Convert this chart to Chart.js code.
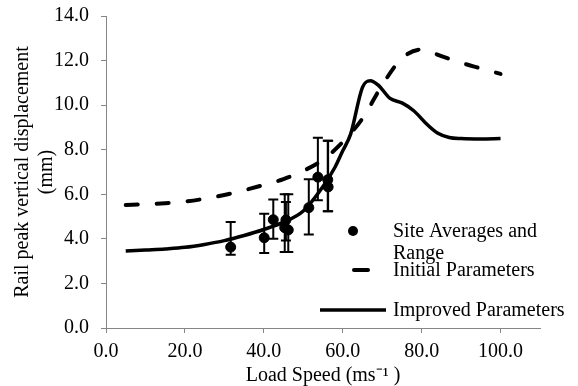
<!DOCTYPE html>
<html>
<head>
<meta charset="utf-8">
<script src="https://cdn.jsdelivr.net/npm/chart.js@4.4.1/dist/chart.umd.min.js"></script>
<style>
  html, body { margin: 0; padding: 0; background: #fff; }
  #wrap { width: 578px; height: 386px; position: relative; }
</style>
</head>
<body>
<div id="wrap"><canvas id="chart"></canvas></div>
<script>
// site measurements (average with min/max range)
const siteSpeed = [31.6, 40.1, 42.4, 45.6, 45.3, 46.2, 51.4, 53.7, 56.2, 56.3];
const siteAvg   = [3.63, 4.05, 4.86, 4.85, 4.5, 4.4, 5.4, 6.77, 6.65, 6.33];
const siteMin   = [3.29, 3.37, 4.01, 3.93, 3.41, 3.41, 4.2, 5.73, 5.24, 5.24];
const siteMax   = [4.76, 5.13, 5.77, 5.65, 6.0, 6.0, 6.67, 8.54, 8.4, 8.4];

// model with initial parameters
const initSpeed = [5, 10, 15, 20, 25, 30, 35, 40, 45, 50, 55, 60, 65, 70, 75, 80, 82, 85, 90, 95, 100];
const initDisp  = [5.52, 5.55, 5.6, 5.67, 5.8, 5.97, 6.18, 6.42, 6.68, 7.05, 7.55, 8.35, 9.4, 10.9, 12.1, 12.5, 12.4, 12.2, 11.9, 11.65, 11.4];

// model with improved parameters
const improvedSpeed = [5, 10, 15, 20, 25, 30, 35, 40, 45, 50, 55, 58, 60, 62, 65, 67, 69, 72, 75, 78, 81, 84, 87, 90, 95, 100];
const improvedDisp  = [3.45, 3.5, 3.55, 3.62, 3.75, 3.92, 4.15, 4.42, 4.75, 5.25, 6.35, 7.2, 7.95, 8.7, 10.8, 11.1, 10.9, 10.3, 10.1, 9.75, 9.2, 8.75, 8.55, 8.5, 8.48, 8.5];

const xTicks = [0, 20, 40, 60, 80, 100];
const yTicks = [0, 2, 4, 6, 8, 10, 12, 14];

const serif = "'Liberation Serif', 'Times New Roman', serif";
const axisGrey = "#868686";

const toPts = (xs, ys) => xs.map((x, i) => ({ x, y: ys[i] }));

// draws min/max whiskers for the site dataset using the chart's scales
const errorBars = {
  id: "errorBars",
  beforeDatasetsDraw(chart) {
    const { ctx, scales: { x, y } } = chart;
    ctx.save();
    ctx.strokeStyle = "#000";
    ctx.lineWidth = 2;
    siteSpeed.forEach((s, i) => {
      const px = x.getPixelForValue(s);
      const top = y.getPixelForValue(siteMax[i]);
      const bot = y.getPixelForValue(siteMin[i]);
      ctx.beginPath();
      ctx.moveTo(px, top); ctx.lineTo(px, bot);
      ctx.moveTo(px - 5, top); ctx.lineTo(px + 5, top);
      ctx.moveTo(px - 5, bot); ctx.lineTo(px + 5, bot);
      ctx.stroke();
    });
    ctx.restore();
  },
};

// Excel-like legend sitting inside the plot at lower right
const plotLegend = {
  id: "plotLegend",
  afterDraw(chart) {
    const { ctx, chartArea: a } = chart;
    const tx = a.left + 287;
    ctx.save();
    ctx.fillStyle = "#000";
    ctx.strokeStyle = "#000";
    ctx.font = "20px " + serif;
    ctx.textBaseline = "middle";

    ctx.beginPath();
    ctx.arc(a.left + 247, a.top + 215, 5, 0, Math.PI * 2);
    ctx.fill();
    ctx.fillText("Site Averages and", tx, a.top + 216);
    ctx.fillText("Range", tx, a.top + 238);

    ctx.lineWidth = 4;
    ctx.lineCap = "round";
    ctx.beginPath();
    ctx.moveTo(a.left + 248, a.top + 254); ctx.lineTo(a.left + 262, a.top + 254);
    ctx.stroke();
    ctx.fillText("Initial Parameters", tx, a.top + 255);

    ctx.lineWidth = 3.5;
    ctx.lineCap = "butt";
    ctx.beginPath();
    ctx.moveTo(a.left + 214, a.top + 294); ctx.lineTo(a.left + 280, a.top + 294);
    ctx.stroke();
    ctx.fillText("Improved Parameters", tx, a.top + 295);
    ctx.restore();
  },
};

new Chart(document.getElementById("chart").getContext("2d"), {
  type: "scatter",
  data: {
    datasets: [
      {
        label: "Site Averages and Range",
        data: toPts(siteSpeed, siteAvg),
        backgroundColor: "#000",
        borderColor: "#000",
        pointRadius: 5,
        showLine: false,
      },
      {
        label: "Initial Parameters",
        data: toPts(initSpeed, initDisp),
        showLine: true,
        borderColor: "#000",
        borderWidth: 4,
        borderDash: [12, 19],
        borderCapStyle: "round",
        pointRadius: 0,
        cubicInterpolationMode: "monotone",
      },
      {
        label: "Improved Parameters",
        data: toPts(improvedSpeed, improvedDisp),
        showLine: true,
        borderColor: "#000",
        borderWidth: 3.5,
        pointRadius: 0,
        cubicInterpolationMode: "monotone",
      },
    ],
  },
  options: {
    responsive: true,
    maintainAspectRatio: false,
    animation: false,
    layout: { padding: { top: 16, right: 38, bottom: 0, left: 11 } },
    plugins: {
      legend: { display: false },
      tooltip: { enabled: false },
    },
    scales: {
      x: {
        type: "linear",
        min: 0,
        max: 110,
        afterBuildTicks: (s) => { s.ticks = xTicks.map((v) => ({ value: v })); },
        afterFit: (s) => { s.height = 58; },
        grid: { drawOnChartArea: false, drawTicks: true, tickLength: 5, color: axisGrey },
        border: { color: axisGrey, width: 1 },
        ticks: {
          color: "#000",
          padding: 7,
          font: { family: serif, size: 20 },
          callback: (v) => v.toFixed(1),
        },
        title: {
          display: true,
          text: "Load Speed (ms\u207B\u00B9 )",
          color: "#000",
          font: { family: serif, size: 20, lineHeight: 1.0 },
          padding: { top: 0, bottom: 0 },
        },
      },
      y: {
        min: 0,
        max: 14,
        afterBuildTicks: (s) => { s.ticks = yTicks.map((v) => ({ value: v })); },
        afterFit: (s) => {
          s.width = 95;
          s.paddingTop = 0;
          s.paddingBottom = 0;
        },
        grid: { drawOnChartArea: false, drawTicks: true, tickLength: 5, color: axisGrey },
        border: { color: axisGrey, width: 1 },
        ticks: {
          color: "#000",
          padding: 12,
          font: { family: serif, size: 20 },
          callback: (v) => v.toFixed(1),
        },
        title: {
          display: true,
          text: ["Rail peak vertical displacement", "(mm)"],
          color: "#000",
          font: { family: serif, size: 20, lineHeight: 1.2 },
          padding: { top: 0, bottom: 0 },
        },
      },
    },
  },
  plugins: [errorBars, plotLegend],
});
</script>
</body>
</html>
